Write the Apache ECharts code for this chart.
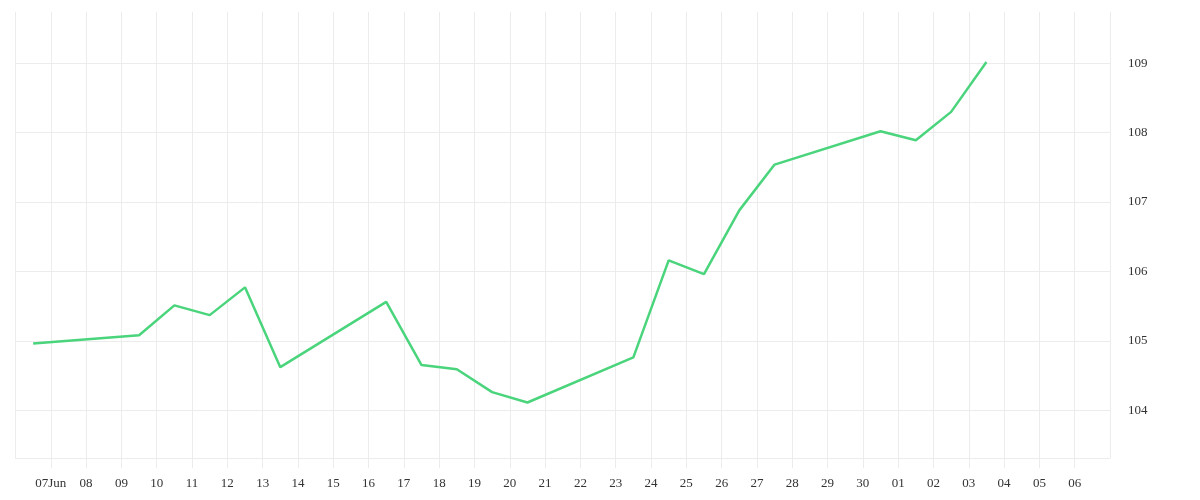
<!doctype html>
<html>
<head>
    <title>Price chart</title>
    <script src="https://cdn.jsdelivr.net/npm/echarts@6/dist/echarts.min.js"></script>
</head>
<style>
    html, body {
        margin: 0;
        padding: 0;
        background: #fff;
    }
    #chart {
        width: 1200px;
        height: 500px;
    }
</style>
<body>
<div id="chart"></div>
<script>
  var DAY = 86400000;

  // trading days (points sit at midday)
  var days = [
    '2025-06-06', '2025-06-09', '2025-06-10', '2025-06-11', '2025-06-12', '2025-06-13',
    '2025-06-16', '2025-06-17', '2025-06-18', '2025-06-19', '2025-06-20',
    '2025-06-23', '2025-06-24', '2025-06-25', '2025-06-26', '2025-06-27',
    '2025-06-30', '2025-07-01', '2025-07-02', '2025-07-03'
  ];
  var values = [
    104.96, 105.08, 105.51, 105.37, 105.77, 104.62,
    105.56, 104.65, 104.59, 104.26, 104.11,
    104.76, 106.16, 105.96, 106.88, 107.54,
    108.02, 107.89, 108.30, 109.02
  ];
  // one label per day, Jun 06 .. Jul 07
  var tickLabels = [
    '06', '07Jun', '08', '09', '10', '11', '12', '13', '14', '15', '16', '17', '18',
    '19', '20', '21', '22', '23', '24', '25', '26', '27', '28', '29', '30',
    '01', '02', '03', '04', '05', '06', '07'
  ];

  var xMin = Date.UTC(2025, 5, 6);
  var xMax = Date.UTC(2025, 6, 7);
  var yMin = 103.31;
  var yMax = 109.74;

  function toTime(s) {
    var p = s.split('-');
    return Date.UTC(+p[0], +p[1] - 1, +p[2], 12);
  }

  var points = days.map(function (d, i) {
    return [toTime(d), values[i]];
  });

  var gridColor = '#ececec';
  var font = 'Liberation Serif';

  var myChart = echarts.init(document.getElementById('chart'));
  myChart.setOption({
    animation: false,
    backgroundColor: '#fff',
    grid: { left: 15.5, right: 90, top: 12, bottom: 42 },
    xAxis: {
      type: 'value',
      min: xMin,
      max: xMax,
      interval: DAY,
      axisLine: { show: true, lineStyle: { color: gridColor, width: 1 } },
      axisTick: { show: true, length: 10, lineStyle: { color: gridColor } },
      splitLine: { show: true, lineStyle: { color: gridColor } },
      axisLabel: {
        showMinLabel: false,
        showMaxLabel: false,
        margin: 16,
        color: '#333',
        fontFamily: font,
        fontSize: 13,
        formatter: function (v) {
          return tickLabels[Math.round((v - xMin) / DAY)] || '';
        }
      }
    },
    yAxis: {
      type: 'value',
      position: 'right',
      min: yMin,
      max: yMax,
      axisLine: { show: false },
      axisTick: { show: false },
      splitLine: {
        show: true,
        showMinLine: false,
        showMaxLine: false,
        lineStyle: { color: gridColor }
      },
      axisLabel: {
        showMinLabel: false,
        showMaxLabel: false,
        margin: 18,
        color: '#333',
        fontFamily: font,
        fontSize: 13,
        padding: [3, 0, 0, 0]
      }
    },
    series: [{
      type: 'line',
      data: points,
      showSymbol: false,
      lineStyle: { color: '#4ad47c', width: 2.5 },
      itemStyle: { color: '#4ad47c' }
    }]
  });
</script>
</body>
</html>
